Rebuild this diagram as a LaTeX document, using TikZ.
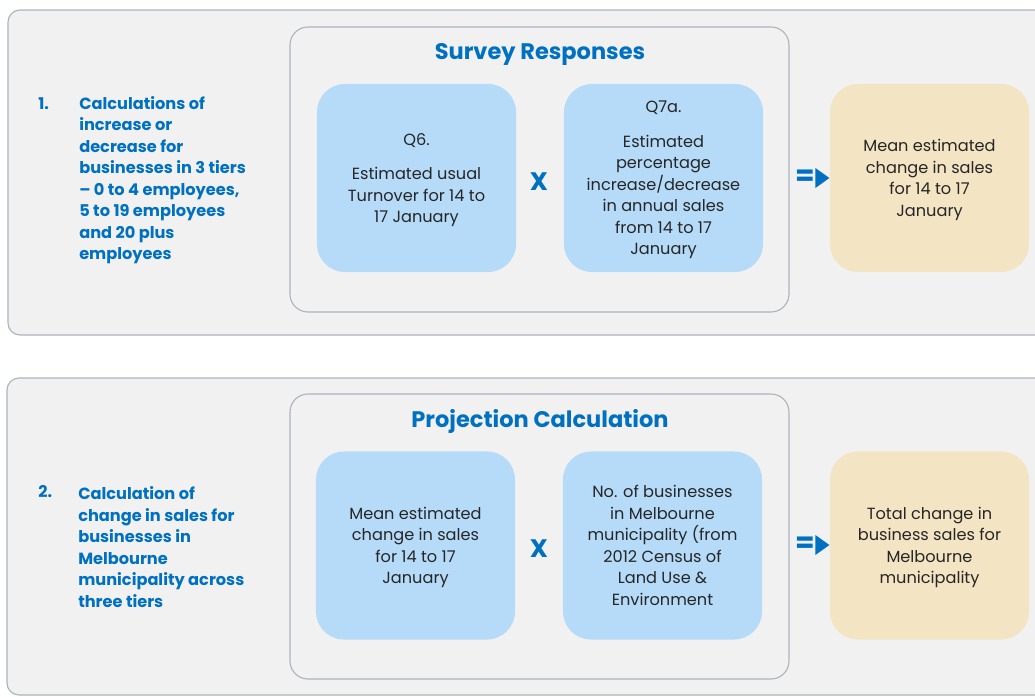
\documentclass[tikz,border=0pt]{standalone}
\usepackage{fontspec}
\setmainfont{Poppins}
\usetikzlibrary{positioning, shapes.geometric}

\definecolor{panelgray}{HTML}{F1F1F1}
\definecolor{panelline}{HTML}{A9B4BD}
\definecolor{stepblue}{HTML}{0070C0}
\definecolor{boxblue}{HTML}{B5DBF9}
\definecolor{boxsand}{HTML}{F3E4C3}
\definecolor{textgray}{HTML}{262626}

\tikzset{
panel/.style={draw=panelline, fill=panelgray, line width=0.8pt, rounded corners=0.3cm}, % outer grey band
frame/.style={draw=panelline, line width=0.8pt, rounded corners=0.45cm}, % inner group frame
qbox/.style={rectangle, rounded corners=0.7cm, fill=boxblue, text=textgray, align=center, text depth=0pt,
  minimum width=4.975cm, minimum height=4.7cm, font=\fontsize{11.5}{15.3}\selectfont},
resultbox/.style={qbox, fill=boxsand},
heading/.style={text=stepblue, font=\bfseries\fontsize{16}{19}\selectfont},
steptext/.style={text=stepblue, align=left, anchor=west, inner sep=0pt, font=\bfseries\fontsize{11.5}{15.3}\selectfont},
times/.style={text=stepblue, font=\bfseries\fontsize{18}{18}\selectfont},
equals/.style={text=stepblue, inner sep=0pt, font=\bfseries\fontsize{20}{20}\selectfont},
arrowtip/.style={isosceles triangle, isosceles triangle stretches, fill=stepblue, inner sep=0pt,
  minimum width=0.5cm, minimum height=0.35cm},
}

\begin{document}
\begin{tikzpicture}[x=0.025cm, y=-0.025cm]
    \clip (0,0) rectangle (1035,697);

    % step 1
    \draw[panel] (8,10) rectangle (1060,335);
    \draw[frame] (290,27) rectangle (789,312);
    \node[heading] (survey) at (540,54) {Survey Responses};
    \node[steptext] (num1) at (38,104) {1.};
    \node[steptext] (step1) at (79,180) {Calculations of\\increase or\\decrease for\\businesses in 3 tiers\\– 0 to 4 employees,\\5 to 19 employees\\and 20 plus\\employees};
    \node[qbox] (q6) at (416.5,178) {Q6.\\[9pt]Estimated usual\\Turnover for 14 to\\17 January};
    \node[qbox] (q7a) at (663.5,178) {Q7a.\\[9pt]Estimated\\percentage\\increase/decrease\\in annual sales\\from 14 to 17\\January};
    \node[resultbox] (mean) at (929.5,178) {Mean estimated\\change in sales\\for 14 to 17\\January};
    \node[times] (x1) at (539,182) {X};
    \node[equals] (eq1) at (805,178) {=};
    \node[arrowtip, right=0pt of eq1] (tip1) {};

    % step 2
    \draw[panel] (7,378) rectangle (1060,695);
    \draw[frame] (290,394) rectangle (789,679);
    \node[heading] (projection) at (540,421) {Projection Calculation};
    \node[steptext] (num2) at (38,492) {2.};
    \node[steptext] (step2) at (78,547) {Calculation of\\change in sales for\\businesses in\\Melbourne\\municipality across\\three tiers};
    \node[qbox] (meanin) at (415.5,545.5) {Mean estimated\\change in sales\\for 14 to 17\\January};
    \node[qbox] (count) at (662.5,545.5) {No. of businesses\\in Melbourne\\municipality (from\\2012 Census of\\Land Use \&\\Environment};
    \node[resultbox] (total) at (929.5,545.5) {Total change in\\business sales for\\Melbourne\\municipality};
    \node[times] (x2) at (539,549) {X};
    \node[equals] (eq2) at (805,545) {=};
    \node[arrowtip, right=0pt of eq2] (tip2) {};
\end{tikzpicture}
\end{document}
